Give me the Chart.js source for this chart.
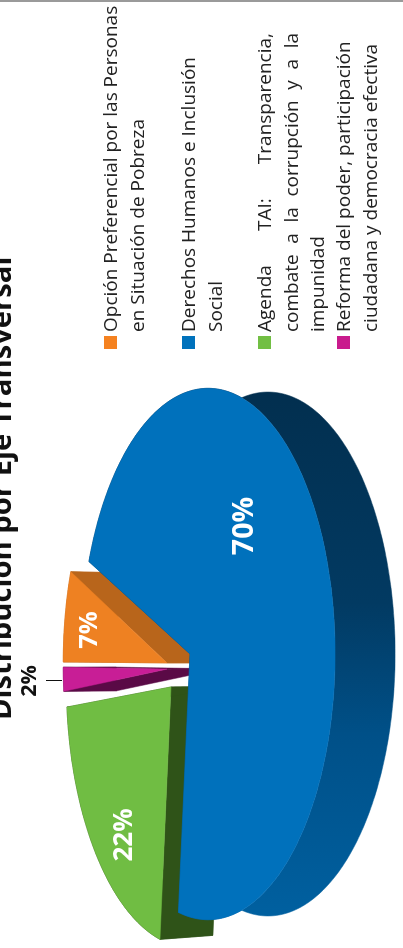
<!DOCTYPE html>
<html lang="es">
<head>
<meta charset="utf-8">
<title>Distribución por Eje Transversal</title>
<script src="https://cdn.jsdelivr.net/npm/chart.js@4"></script>
<style>
  html, body { margin: 0; background: #fff; overflow: hidden; width: 403px; height: 948px; }
  #edge { position: absolute; left: 0; top: 0; width: 403px; height: 2px; background: #9a9a9a; z-index: 2; }
  /* the whole page was scanned on its side, so everything sits in a turned sheet */
  #sheet { position: absolute; left: 0; top: 948px; width: 948px; height: 403px; overflow: hidden;
           transform-origin: 0 0; transform: rotate(-90deg); font-family: "Open Sans", sans-serif; }
  #sheet canvas { position: absolute; left: 0; top: 0; }
  #title { position: absolute; left: 228px; top: -15px; font-size: 29.2px; line-height: 30px; font-weight: bold; color: #111; white-space: nowrap; }
  #legend { position: absolute; left: 599px; top: 0; width: 349px; height: 403px; color: #222; font-size: 19px; line-height: 26.6px; }
  .item { position: absolute; left: 0; }
  .swatch { position: absolute; left: 0; top: 7px; width: 13px; height: 13px; }
  .line { position: absolute; left: 17px; white-space: nowrap; }
  .line.just { width: 299px; white-space: normal; text-align: justify; text-align-last: justify; }
</style>
</head>
<body>
<div id="edge"></div>
<div id="sheet">
  <canvas id="pie" width="948" height="403"></canvas>
  <div id="title"></div>
  <div id="legend"></div>
</div>
<script>
const categories = [
  "Opción Preferencial por las Personas en Situación de Pobreza",
  "Derechos Humanos e Inclusión Social",
  "Agenda TAI: Transparencia, combate a la corrupción y a la impunidad",
  "Reforma del poder, participación ciudadana y democracia efectiva"
]
const shares = [6.5, 70, 21.8, 1.7]
const shareLabels = ["7%", "70%", "22%", "2%"]
const legendLines = [
  ["Opción Preferencial por las Personas", "en Situación de Pobreza"],
  ["Derechos Humanos e Inclusión", "Social"],
  ["Agenda TAI: Transparencia,", "combate a la corrupción y a la", "impunidad"],
  ["Reforma del poder, participación", "ciudadana y democracia efectiva"]
]
const titleText = "Distribución por Eje Transversal"

const faceColors = ["#ee8122", "#0071bc", "#70bd43", "#c81e96"]
const wallColors = ["#b8651b", "#022f4f", "#2f5318", "#5a0a46"]
const swatchColors = ["#f58220", "#0072bc", "#72bf44", "#c91b8d"]
const legendTops = [104, 182, 258, 337]
const justifiedLines = { 2: [0, 1] }

// camera for the tilted disc
const CX = 294, CY = 190, A = 263, B = 124.5, P = 0.142
const SHRINK = 0.986

// how far each slice is pulled out in disc units, and how thick it is in pixels
const pull = [[-0.035, 0.19], [0, 0], [-0.128, 0.156], [-0.059, 0.19]]
const depth = [53, 60, 53, 53]
const drawOrder = [3, 0, 2, 1]
const labelSpots = [[318, 90, 25.5, "#fff"], [422, 245, 28.5, "#fff"], [113, 125, 26, "#fff"], [267, 30, 21.5, "#111"]]

function project(u, v) {
  const w = 1 + P * v
  return [CX + A * u / w, CY - B * v / w]
}

function fillPoly(ctx, pts, color) {
  ctx.beginPath()
  pts.forEach((p, i) => i ? ctx.lineTo(p[0], p[1]) : ctx.moveTo(p[0], p[1]))
  ctx.closePath()
  ctx.fillStyle = color
  ctx.fill()
  ctx.strokeStyle = color
  ctx.lineWidth = 0.5
  ctx.stroke()
}

const tiltedPie = {
  id: "tiltedPie",
  beforeDatasetDraw(chart) {
    const ctx = chart.ctx
    const arcs = chart.getDatasetMeta(0).data

    const blueWall = ctx.createLinearGradient(30, 0, 556, 0)
    blueWall.addColorStop(0, "#0060a0")
    blueWall.addColorStop(0.35, "#005088")
    blueWall.addColorStop(0.6, "#023a62")
    blueWall.addColorStop(1, wallColors[1])

    drawOrder.forEach(i => {
      const arc = arcs[i]
      const lower = p => [CX + (p[0] - CX) * SHRINK, p[1] + depth[i]]
      const steps = Math.ceil((arc.endAngle - arc.startAngle) * 60)
      const rim = []
      for (let s = 0; s <= steps; s++) {
        const a = arc.startAngle + (arc.endAngle - arc.startAngle) * s / steps
        rim.push(project(pull[i][0] + Math.cos(a), pull[i][1] - Math.sin(a)))
      }
      const tip = project(pull[i][0], pull[i][1])
      const wall = i === 1 ? blueWall : wallColors[i]

      fillPoly(ctx, rim.concat(rim.map(lower).reverse()), wall)
      fillPoly(ctx, [tip, rim[0], lower(rim[0]), lower(tip)], wall)
      fillPoly(ctx, [tip, rim[steps], lower(rim[steps]), lower(tip)], wall)
      fillPoly(ctx, [tip].concat(rim), arc.options.backgroundColor)
    })

    // leader of the 2% label
    ctx.beginPath()
    ctx.moveTo(267.5, 46)
    ctx.lineTo(267.5, 62)
    ctx.strokeStyle = "#111"
    ctx.lineWidth = 1
    ctx.stroke()

    ctx.textAlign = "center"
    ctx.textBaseline = "middle"
    shareLabels.forEach((text, i) => {
      const [x, y, size, color] = labelSpots[i]
      ctx.font = "bold " + size + "px 'Open Sans'"
      ctx.fillStyle = color
      ctx.fillText(text, x, y)
    })
    return false
  }
}

new Chart(document.getElementById("pie"), {
  type: "pie",
  data: {
    labels: categories,
    datasets: [{ data: shares, backgroundColor: faceColors, borderWidth: 0 }]
  },
  plugins: [tiltedPie],
  options: {
    responsive: false,
    animation: false,
    plugins: { legend: { display: false }, tooltip: { enabled: false } }
  }
})

document.getElementById("title").textContent = titleText

const legend = document.getElementById("legend")
legendLines.forEach((lines, i) => {
  const item = document.createElement("div")
  item.className = "item"
  item.style.top = legendTops[i] - 7 + "px"
  const swatch = document.createElement("div")
  swatch.className = "swatch"
  swatch.style.background = swatchColors[i]
  item.appendChild(swatch)
  lines.forEach((text, n) => {
    const line = document.createElement("div")
    line.className = "line"
    if ((justifiedLines[i] || []).includes(n)) line.classList.add("just")
    line.style.top = n * 26.6 + "px"
    line.textContent = text
    item.appendChild(line)
  })
  legend.appendChild(item)
})
</script>
</body>
</html>
